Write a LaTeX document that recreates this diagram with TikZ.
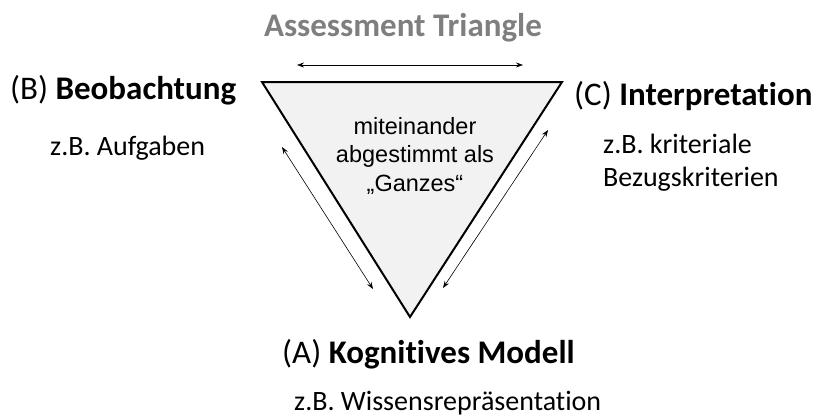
\documentclass[tikz,border=0pt]{standalone}
\usepackage{fontspec}
\setmainfont{Carlito}[Ligatures=NoCommon]
\newfontfamily\arialfont{Liberation Sans}
\usetikzlibrary{arrows.meta}
\definecolor{titlegray}{HTML}{7F7F7F}
\definecolor{trifill}{HTML}{F2F2F2}
\begin{document}
\begin{tikzpicture}[x=1pt,y=-1pt,
  lbl/.style={inner sep=0pt,anchor=base west,font=\fontsize{33}{40}\selectfont},
  sub/.style={inner sep=0pt,anchor=base west,font=\fontsize{28}{33}\selectfont},
  dbl/.style={{Stealth[length=7pt,width=5pt]}-{Stealth[length=7pt,width=5pt]},line width=0.6pt},
  tri/.style={draw=black,fill=trifill,line width=2pt,line join=miter}]
\useasboundingbox (0,0) rectangle (820,416);
\coordinate (tl) at (262,82);
\coordinate (tr) at (562,82);
\coordinate (bt) at (410,317);
\draw[tri] (tl) -- (tr) -- (bt) -- cycle;
\node[inner sep=0pt,align=center,font=\arialfont\fontsize{23.5}{28.5}\selectfont,anchor=base] (inner) at (415,191) {miteinander\\abgestimmt als\\„Ganzes“};
\node[inner sep=0pt,anchor=base,font=\bfseries\fontsize{33}{40}\selectfont,text=titlegray] (title) at (403,36) {Assessment Triangle};
\coordinate (ta1) at (297,65);
\coordinate (ta2) at (523,65);
\draw[dbl] (ta1) -- (ta2);
\coordinate (la1) at (282,147);
\coordinate (la2) at (373,289);
\draw[dbl] (la1) -- (la2);
\coordinate (ra1) at (548,130);
\coordinate (ra2) at (443,288);
\draw[dbl] (ra1) -- (ra2);
\node[lbl] (B) at (10,99) {(B) \textbf{Beobachtung}};
\node[sub] (Bs) at (50,155) {z.B. Aufgaben};
\node[lbl] (C) at (574,105) {(C) \textbf{Interpretation}};
\node[sub] (Cs1) at (603,153) {z.B. kriteriale};
\node[sub] (Cs2) at (603,186) {Bezugskriterien};
\node[lbl] (A) at (282,363) {(A) \textbf{Kognitives Modell}};
\node[sub] (As) at (294,410) {z.B. Wissensrepräsentation};
\end{tikzpicture}
\end{document}
